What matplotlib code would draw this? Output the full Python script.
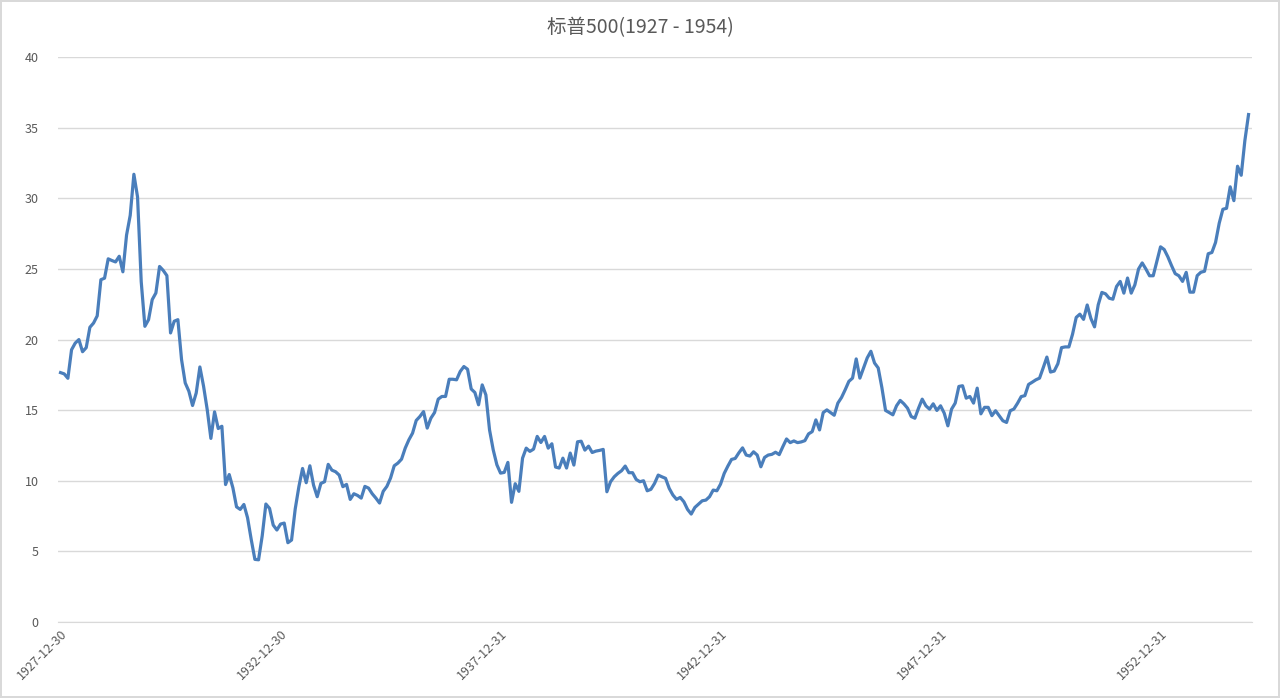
import pandas as pd
import matplotlib
matplotlib.use("Agg")
import matplotlib.pyplot as plt

plt.rcParams['font.family'] = ['Noto Sans CJK SC', 'DejaVu Sans']

# monthly closes, 1927-12 .. 1954-12
sp500 = [
    17.66, 17.57, 17.26, 19.28, 19.75, 20.00, 19.14, 19.43, 20.87, 21.17, 21.68, 24.24,
    24.35, 25.72, 25.60, 25.50, 25.90, 24.80, 27.40, 28.80, 31.71, 30.10, 24.10, 20.94,
    21.41, 22.83, 23.30, 25.18, 24.90, 24.53, 20.47, 21.30, 21.41, 18.58, 16.93, 16.34,
    15.33, 16.22, 18.06, 16.70, 15.04, 13.00, 14.88, 13.70, 13.86, 9.73, 10.44, 9.50,
    8.15, 7.97, 8.32, 7.38, 5.84, 4.43, 4.40, 6.10, 8.35, 8.04, 6.86, 6.51,
    6.93, 7.00, 5.61, 5.80, 8.00, 9.58, 10.87, 9.86, 11.06, 9.69, 8.87, 9.81,
    9.93, 11.16, 10.75, 10.64, 10.40, 9.58, 9.74, 8.68, 9.08, 8.96, 8.77, 9.60,
    9.48, 9.08, 8.77, 8.42, 9.25, 9.60, 10.19, 11.06, 11.25, 11.53, 12.31, 12.90,
    13.37, 14.27, 14.55, 14.90, 13.73, 14.43, 14.83, 15.78, 15.97, 15.97, 17.19, 17.19,
    17.15, 17.74, 18.09, 17.90, 16.50, 16.25, 15.38, 16.79, 16.08, 13.60, 12.19, 11.13,
    10.54, 10.59, 11.30, 8.47, 9.79, 9.25, 11.60, 12.31, 12.08, 12.24, 13.14, 12.71,
    13.14, 12.31, 12.62, 10.97, 10.90, 11.60, 10.90, 11.96, 11.11, 12.76, 12.80, 12.17,
    12.45, 12.00, 12.10, 12.15, 12.22, 9.22, 9.93, 10.28, 10.52, 10.71, 11.04, 10.57,
    10.57, 10.09, 9.93, 10.00, 9.29, 9.39, 9.81, 10.40, 10.28, 10.17, 9.46, 8.99,
    8.68, 8.82, 8.51, 7.97, 7.64, 8.11, 8.35, 8.58, 8.63, 8.87, 9.34, 9.29,
    9.76, 10.52, 11.04, 11.51, 11.58, 11.98, 12.33, 11.82, 11.75, 12.05, 11.82, 10.99,
    11.65, 11.82, 11.87, 12.02, 11.85, 12.42, 12.96, 12.70, 12.82, 12.70, 12.75, 12.84,
    13.32, 13.48, 14.31, 13.60, 14.83, 15.02, 14.83, 14.64, 15.50, 15.90, 16.45, 17.04,
    17.27, 18.63, 17.27, 17.99, 18.70, 19.17, 18.34, 17.99, 16.60, 14.98, 14.83, 14.67,
    15.31, 15.69, 15.45, 15.14, 14.55, 14.43, 15.14, 15.78, 15.31, 15.07, 15.45, 14.98,
    15.31, 14.79, 13.89, 15.07, 15.50, 16.68, 16.73, 15.85, 15.97, 15.50, 16.56, 14.74,
    15.20, 15.20, 14.61, 14.96, 14.61, 14.25, 14.13, 14.96, 15.08, 15.49, 15.96, 16.03,
    16.82, 16.98, 17.15, 17.27, 18.00, 18.76, 17.70, 17.77, 18.29, 19.43, 19.48, 19.48,
    20.38, 21.57, 21.80, 21.43, 22.45, 21.50, 20.90, 22.46, 23.34, 23.24, 22.93, 22.86,
    23.76, 24.12, 23.29, 24.36, 23.29, 23.88, 25.00, 25.43, 25.00, 24.52, 24.52, 25.55,
    26.57, 26.38, 25.86, 25.24, 24.67, 24.52, 24.12, 24.76, 23.36, 23.36, 24.53, 24.77,
    24.84, 26.08, 26.17, 26.88, 28.24, 29.23, 29.30, 30.82, 29.84, 32.28, 31.64, 34.10,
    35.94,
]

try:
    dates = pd.date_range('1927-12-30', periods=len(sp500), freq='BME')
except ValueError:
    dates = pd.date_range('1927-12-30', periods=len(sp500), freq='BM')
date_labels = [d.strftime('%Y-%m-%d') for d in dates]

title = '标普500(1927 - 1954)'
grey = '#595959'

fig = plt.figure(figsize=(12.8, 6.98), dpi=100)
fig.patch.set_edgecolor('#d9d9d9')
fig.patch.set_linewidth(1.5)
ax = fig.add_axes([0.0453, 0.109, 0.9327, 0.809])

x = list(range(len(sp500)))
ax.plot(x, sp500, color='#4a7ebb', linewidth=2.3, solid_joinstyle='round')

ax.set_ylim(0, 40)
ax.set_yticks(range(0, 41, 5))
ax.set_xlim(-0.7, len(sp500) - 0.1)
tick_pos = x[::60]
ax.set_xticks(tick_pos)
ax.set_xticklabels([date_labels[i] for i in tick_pos], rotation=45,
                   ha='right', rotation_mode='anchor')

ax.grid(axis='y', color='#d9d9d9', linewidth=1)
ax.set_axisbelow(True)
for s in ['top', 'right', 'left']:
    ax.spines[s].set_visible(False)
ax.spines['bottom'].set_color('#d9d9d9')
ax.tick_params(axis='y', length=0, labelsize=9, labelcolor=grey, pad=14)
ax.tick_params(axis='x', length=0, labelsize=9, labelcolor=grey, pad=4)

fig.text(0.5, 0.96, title, ha='center', va='center', fontsize=14, color=grey)

fig.savefig('out.png', dpi=100)
